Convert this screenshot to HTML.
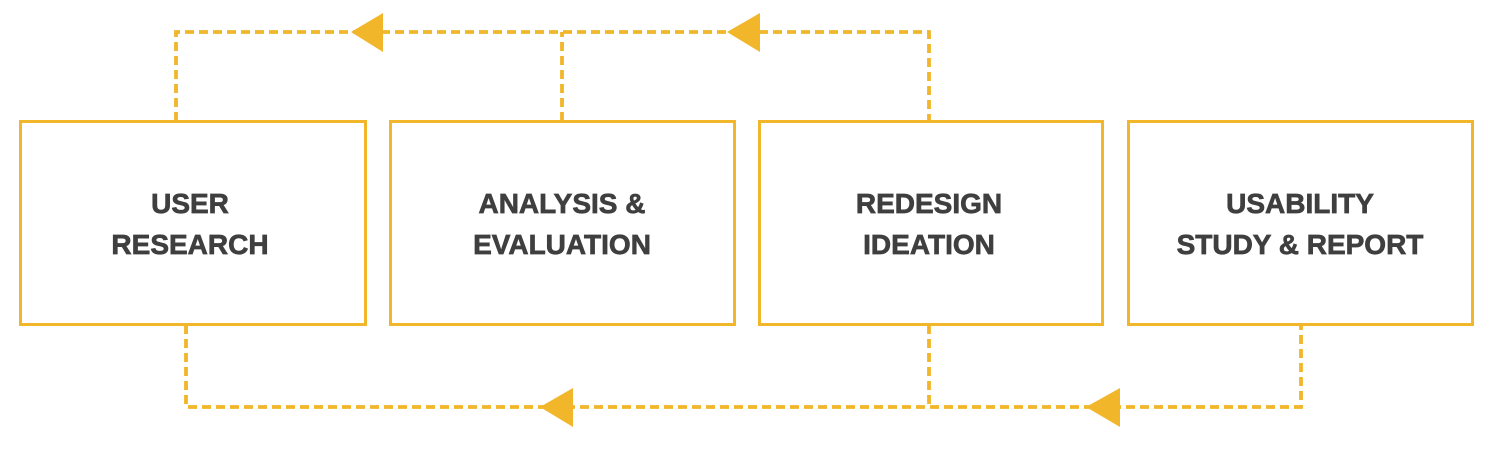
<!DOCTYPE html>
<html><head><meta charset="utf-8"><style>
html,body{margin:0;padding:0;background:#fff;width:1500px;height:450px;overflow:hidden}
</style></head><body>
<svg width="1500" height="450" viewBox="0 0 1500 450" xmlns="http://www.w3.org/2000/svg">
<g fill="none" stroke="#F1B62A" stroke-width="3">
<rect x="20.5" y="121.5" width="345" height="203"/>
<rect x="390.5" y="121.5" width="344" height="203"/>
<rect x="759.5" y="121.5" width="343" height="203"/>
<rect x="1128.5" y="121.5" width="344" height="203"/>
</g>
<g fill="none" stroke="#F1B62A" stroke-width="3.8" stroke-dasharray="9 5">
<path d="M176 121 V32 H929 V121"/>
<path d="M562 121 V32"/>
<path d="M186 325 V407 H1301 V325"/>
<path d="M929 325 V407"/>
</g>
<g fill="#F1B62A">
<polygon points="351,32 383,13 383,52"/>
<polygon points="727,32 760,13 760,52"/>
<polygon points="540,407 573,388 573,427"/>
<polygon points="1086,407 1120,388 1120,427"/>
</g>
<g font-family="Liberation Sans, sans-serif" font-weight="bold" font-size="28" fill="#3f3f3f" stroke="#3f3f3f" stroke-width="0.7" text-anchor="middle">
<text x="190" y="213">USER</text>
<text x="190" y="254">RESEARCH</text>
<text x="562" y="213">ANALYSIS &amp;</text>
<text x="562" y="254">EVALUATION</text>
<text x="929" y="213">REDESIGN</text>
<text x="929" y="254">IDEATION</text>
<text x="1300" y="213">USABILITY</text>
<text x="1300" y="254">STUDY &amp; REPORT</text>
</g>
</svg>
</body></html>
